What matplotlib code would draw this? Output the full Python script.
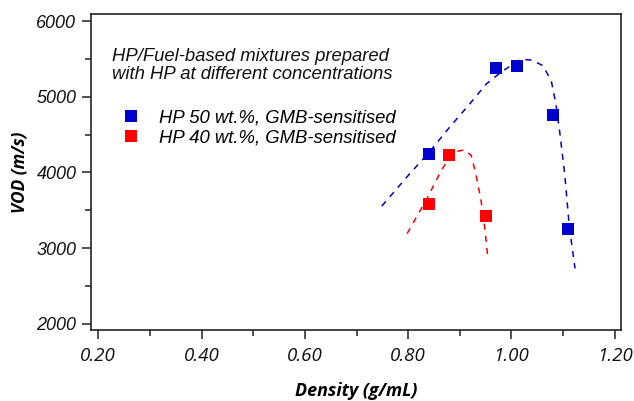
import matplotlib.pyplot as plt
from matplotlib.ticker import MultipleLocator, FormatStrFormatter
from matplotlib.lines import Line2D

# measured points
hp50_density = [0.84, 0.97, 1.01, 1.08, 1.11]
hp50_vod = [4250, 5380, 5410, 4765, 3250]
hp40_density = [0.84, 0.88, 0.95]
hp40_vod = [3585, 4235, 3420]

# dashed trend curves
fit50_x = [0.749, 0.803, 0.838, 0.880, 0.919, 0.951, 0.983, 1.019, 1.041,
           1.061, 1.077, 1.086, 1.093, 1.103, 1.112, 1.123]
fit50_y = [3557, 3983, 4246, 4596, 4904, 5167, 5342, 5496, 5482,
           5408, 5211, 4904, 4553, 3983, 3280, 2733]
fit40_x = [0.798, 0.838, 0.864, 0.887, 0.909, 0.922, 0.931, 0.941, 0.948, 0.954]
fit40_y = [3193, 3675, 4026, 4267, 4299, 4224, 3983, 3632, 3280, 2895]

blue = '#0000cc'
red = '#ff0000'
edge = '#222222'

fig = plt.figure(figsize=(6.34, 4.01), dpi=100)
ax = fig.add_axes([0.1435, 0.177, 0.836, 0.788])

ax.plot(fit50_x, fit50_y, color=blue, lw=1.1, linestyle=(0, (4, 4)))
ax.plot(fit40_x, fit40_y, color=red, lw=1.1, linestyle=(0, (4, 4)))
ax.plot(hp50_density, hp50_vod, 's', color=blue, ms=9, mew=0)
ax.plot(hp40_density, hp40_vod, 's', color=red, ms=9, mew=0)

ax.set_xlim(0.186, 1.212)
ax.set_ylim(1920, 6092)
ax.xaxis.set_major_locator(MultipleLocator(0.2))
ax.xaxis.set_minor_locator(MultipleLocator(0.1))
ax.yaxis.set_major_locator(MultipleLocator(1000))
ax.yaxis.set_minor_locator(MultipleLocator(500))
ax.xaxis.set_major_formatter(FormatStrFormatter('%.2f'))

for s in ax.spines.values():
    s.set_color(edge)
    s.set_linewidth(1.2)
ax.tick_params(which='major', length=6.5, width=1.1, color=edge)
ax.tick_params(which='minor', length=4, width=1.1, color=edge)
ax.tick_params(axis='y', pad=4)
ax.tick_params(axis='x', pad=6)

for lab in ax.get_yticklabels():
    lab.set_fontfamily('Liberation Sans')
    lab.set_fontstyle('italic')
    lab.set_fontsize(13)
    lab.set_color('#111111')
for lab in ax.get_xticklabels():
    lab.set_fontfamily('Open Sans')
    lab.set_fontstyle('italic')
    lab.set_fontsize(13.5)
    lab.set_color('#111111')

ax.set_xlabel('Density (g/mL)', fontfamily='Open Sans', fontstyle='italic',
              fontweight='bold', fontsize=12.9, labelpad=12)
ax.set_ylabel('VOD (m/s)', fontfamily='Open Sans', fontstyle='italic',
              fontweight='bold', fontsize=12.4, labelpad=6)

ax.text(0.04, 0.892, 'HP/Fuel-based mixtures prepared\nwith HP at different concentrations',
        transform=ax.transAxes, fontfamily='Liberation Sans', fontstyle='italic',
        fontsize=13.3, va='top', ha='left', linespacing=1.05, color='#111111')

handles = [Line2D([], [], marker='s', color=blue, ls='none', ms=9, mew=0),
           Line2D([], [], marker='s', color=red, ls='none', ms=9, mew=0)]
ax.legend(handles, ['HP 50 wt.%, GMB-sensitised', 'HP 40 wt.%, GMB-sensitised'],
          loc='upper left', bbox_to_anchor=(0.058, 0.697), frameon=False,
          prop={'family': 'Liberation Sans', 'style': 'italic', 'size': 13.3},
          handlelength=1.0, handletextpad=1.0, labelspacing=0.15,
          borderaxespad=0, borderpad=0)

fig.savefig('out.png', dpi=100)
